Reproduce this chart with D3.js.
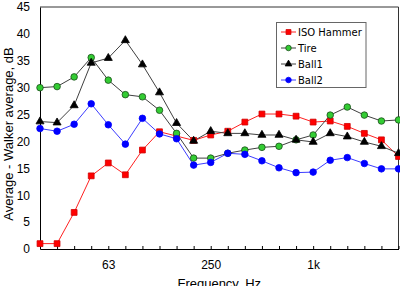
<!DOCTYPE html>
<html>
<head>
<meta charset="utf-8">
<script src="https://cdn.jsdelivr.net/npm/d3@7"></script>
<style>
   body { margin: 0; background: #fff; }
   svg { display: block; }
   .axis text { font-family: "Liberation Sans", Arial, sans-serif; font-size: 12px; fill: #000; }
   .axis path, .axis line { stroke: #000; }
   .legend text { font-family: "DejaVu Sans", Verdana, sans-serif; font-size: 10px; fill: #000; }
</style>
</head>
<body>
<svg class="chart" width="400" height="286"></svg>
<script>
// one-third octave band centres
var frequencies = ['25', '31.5', '40', '50', '63', '80', '100', '125', '160', '200', '250',
   '315', '400', '500', '630', '800', '1k', '1.25k', '1.6k', '2k', '2.5k', '3.15k'];
var labelledFrequencies = ['63', '250', '1k'];
var yTicks = [0, 5, 10, 15, 20, 25, 30, 35, 40, 45];

var isoHammer = [1.0, 1.0, 6.8, 13.6, 16.0, 13.8, 18.4, 21.8, 21.0, 20.2, 21.2,
   21.9, 23.6, 25.1, 25.1, 24.7, 23.6, 23.8, 22.8, 21.5, 20.3, 17.2];
var tire = [30.0, 30.2, 32.0, 35.6, 31.4, 28.7, 28.3, 25.8, 21.5, 16.9, 16.9,
   17.8, 18.4, 18.9, 19.1, 20.3, 21.2, 24.9, 26.4, 24.9, 23.8, 24.0];
var ball1 = [23.7, 23.5, 26.7, 34.6, 35.5, 38.8, 34.3, 29.1, 23.4, 20.1, 21.9,
   21.5, 21.5, 21.2, 21.2, 20.3, 19.9, 21.5, 20.9, 19.9, 19.1, 17.8];
var ball2 = [22.4, 21.9, 23.2, 27.0, 23.1, 19.5, 24.3, 21.4, 20.5, 15.6, 16.1,
   17.8, 17.6, 16.4, 15.1, 14.2, 14.3, 16.5, 17.0, 15.9, 14.9, 14.9];

var seriesNames = ['ISO Hammer', 'Tire', 'Ball1', 'Ball2'];

var series = [
   {name: seriesNames[0], values: isoHammer, line: '#ff2020', fill: '#ff0000', stroke: '#d00000', symbol: d3.symbolSquare, size: 34},
   {name: seriesNames[1], values: tire, line: '#404040', fill: '#33cc33', stroke: '#1a4d1a', symbol: d3.symbolCircle, size: 34},
   {name: seriesNames[2], values: ball1, line: '#404040', fill: '#000000', stroke: '#000000', symbol: d3.symbolTriangle, size: 28},
   {name: seriesNames[3], values: ball2, line: '#3c3cff', fill: '#0000ff', stroke: '#0000ff', symbol: d3.symbolCircle, size: 34}
];

var svg = d3.select('svg.chart');
var plot = {left: 40, right: 398.5, top: 7, bottom: 249};

var x = d3.scalePoint()
   .domain(frequencies)
   .range([plot.left, plot.right]);

var y = d3.scaleLinear()
   .domain([0, 45])
   .range([plot.bottom, plot.top]);

// top and right frame
svg.append('path')
   .attr('d', 'M' + plot.left + ',' + plot.top + 'H' + plot.right + 'V' + plot.bottom)
   .attr('fill', 'none')
   .attr('stroke', '#333')
   .attr('stroke-width', 1);

svg.append('g')
   .attr('class', 'axis axis--y')
   .attr('transform', 'translate(' + plot.left + ',0)')
   .call(d3.axisLeft(y).tickValues(yTicks).tickSizeInner(0).tickSizeOuter(0).tickPadding(10));

svg.append('g')
   .attr('class', 'axis axis--x')
   .attr('transform', 'translate(0,' + plot.bottom + ')')
   .call(d3.axisBottom(x)
      .tickSizeInner(-3)
      .tickSizeOuter(0)
      .tickPadding(11.5)
      .tickFormat(function (d) {
         return labelledFrequencies.indexOf(d) >= 0 ? d : '';
      }));

svg.append('text')
   .attr('transform', 'translate(13,' + ((plot.top + plot.bottom) / 2 + 6) + ') rotate(-90)')
   .attr('text-anchor', 'middle')
   .style('font', '13px "Liberation Sans", Arial, sans-serif')
   .text('Average - Walker average, dB');

svg.append('text')
   .attr('x', (plot.left + plot.right) / 2)
   .attr('y', 288)
   .attr('text-anchor', 'middle')
   .style('font', '13px "Liberation Sans", Arial, sans-serif')
   .text('Frequency, Hz');

var line = d3.line()
   .x(function (d, i) { return x(frequencies[i]); })
   .y(function (d) { return y(d); });

// draw lines first, then markers on top
series.forEach(function (s) {
   svg.append('path')
      .datum(s.values)
      .attr('fill', 'none')
      .attr('stroke', s.line)
      .attr('stroke-width', 1)
      .attr('d', line);
});

series.forEach(function (s) {
   svg.append('g').selectAll('path')
      .data(s.values)
      .enter().append('path')
      .attr('transform', function (d, i) {
         return 'translate(' + x(frequencies[i]) + ',' + y(d) + ')';
      })
      .attr('d', d3.symbol().type(s.symbol).size(s.size))
      .attr('fill', s.fill)
      .attr('stroke', s.stroke)
      .attr('stroke-width', 0.8);
});

// legend
var legend = svg.append('g').attr('class', 'legend');

legend.append('rect')
   .attr('x', 276.5)
   .attr('y', 22.5)
   .attr('width', 89.5)
   .attr('height', 65)
   .attr('fill', '#fff')
   .attr('stroke', '#666')
   .attr('stroke-width', 1);

var legendItem = legend.selectAll('.legendItem')
   .data(series)
   .enter().append('g')
   .attr('class', 'legendItem')
   .attr('transform', function (d, i) {
      return 'translate(0,' + (32 + i * 16) + ')';
   });

legendItem.append('line')
   .attr('x1', 281)
   .attr('x2', 296)
   .attr('stroke', function (d) { return d.line; })
   .attr('stroke-width', 1);

legendItem.append('path')
   .attr('transform', 'translate(288.5,0)')
   .attr('d', function (d) { return d3.symbol().type(d.symbol).size(d.size * 0.7)(); })
   .attr('fill', function (d) { return d.fill; })
   .attr('stroke', function (d) { return d.stroke; })
   .attr('stroke-width', 0.8);

legendItem.append('text')
   .attr('x', 298)
   .attr('y', 3.6)
   .text(function (d) { return d.name; });
</script>
</body>
</html>
